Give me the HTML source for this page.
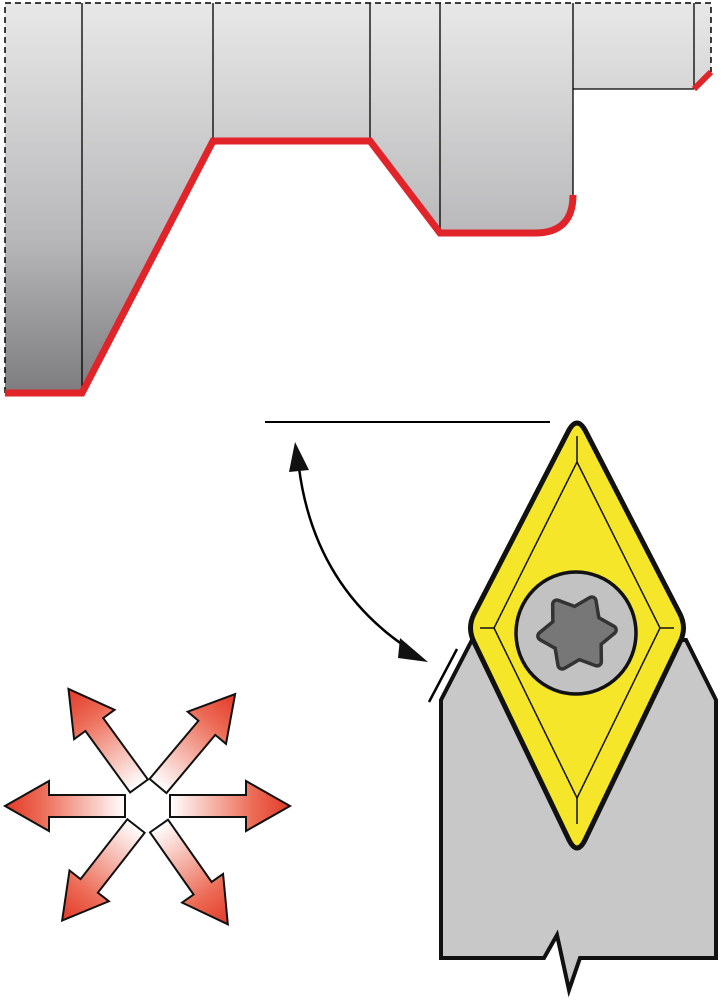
<!DOCTYPE html>
<html><head><meta charset="utf-8"><style>html,body{margin:0;padding:0;background:#fff}svg{display:block}</style></head>
<body>
<svg width="724" height="1000" viewBox="0 0 724 1000" xmlns="http://www.w3.org/2000/svg">
<defs>
<linearGradient id="g" x1="0" y1="0" x2="0" y2="1"><stop offset="0" stop-color="#e8e8e8"/><stop offset="0.6" stop-color="#b8b8ba"/><stop offset="1" stop-color="#7d7d7f"/></linearGradient>
<linearGradient id="ar" x1="0" y1="0" x2="1" y2="0"><stop offset="0" stop-color="#ffffff"/><stop offset="0.7" stop-color="#ec6a55"/><stop offset="1" stop-color="#e23a28"/></linearGradient>
</defs>
<path d="M5,3 H711 V72 L694,89 H573 V195 Q573,233 535,233 H440 L370,141 H213 L82,393 H5 Z" fill="url(#g)"/>
<path d="M5,393 V3 H711 V72" fill="none" stroke="#000" stroke-width="1.5" stroke-dasharray="6,4"/>
<g stroke="#000" stroke-width="1.3">
<line x1="82" y1="3" x2="82" y2="390"/>
<line x1="213" y1="3" x2="213" y2="140"/>
<line x1="370" y1="3" x2="370" y2="140"/>
<line x1="440" y1="3" x2="440" y2="232"/>
<line x1="573" y1="3" x2="573" y2="195"/>
<line x1="694" y1="3" x2="694" y2="88"/>
<line x1="573" y1="89" x2="694" y2="89"/>
</g>
<path d="M5,393 H82 L213,141 H370 L440,233 H535 Q573,233 573,195" fill="none" stroke="#e0242a" stroke-width="7"/>
<line x1="694" y1="89" x2="711" y2="72" stroke="#e0242a" stroke-width="6"/>
<line x1="265" y1="422" x2="550" y2="422" stroke="#000" stroke-width="2"/>
<path d="M299,468 Q315,590 415,653" fill="none" stroke="#000" stroke-width="2.5"/>
<polygon points="295,442 289,472 309,470" fill="#111"/>
<polygon points="428,662 400,638 398,658" fill="#111"/>
<line x1="429" y1="702" x2="457" y2="649" stroke="#000" stroke-width="2.5"/>
<path d="M441,958 V700 L472,640 H686 L716,700 V958 H580 L569,990 L557,935 L544,958 Z" fill="#c8c8c8" stroke="#111" stroke-width="4"/>
<path d="M569,430 Q577,416 585,430 L680,614 Q687,628 680,642 L585,840 Q577,856 569,840 L474,642 Q467,628 474,614 Z" fill="#f5e62a" stroke="#111" stroke-width="5"/>
<path d="M577,462 L660,628 L577,798 L494,628 Z" fill="none" stroke="#111" stroke-width="1.5"/>
<g stroke="#111" stroke-width="1.5"><line x1="577" y1="436" x2="577" y2="462"/><line x1="577" y1="798" x2="577" y2="824"/><line x1="480" y1="628" x2="494" y2="628"/><line x1="660" y1="628" x2="674" y2="628"/></g>
<ellipse cx="576" cy="633" rx="60" ry="61" fill="#c2c2c2" stroke="#111" stroke-width="3.5"/>
<g transform="translate(577,633) rotate(-5)">
<polygon points="35,0 19,11 17.5,30.3 0,22 -17.5,30.3 -19,11 -35,0 -19,-11 -17.5,-30.3 0,-22 17.5,-30.3 19,-11" fill="#333" stroke="#333" stroke-width="12" stroke-linejoin="round"/>
<polygon points="35,0 19,11 17.5,30.3 0,22 -17.5,30.3 -19,11 -35,0 -19,-11 -17.5,-30.3 0,-22 17.5,-30.3 19,-11" fill="#777" stroke="#777" stroke-width="5" stroke-linejoin="round"/>
</g>
<g stroke="#111" stroke-width="2" fill="url(#ar)">
<path d="M0,-11 H76 V-25 L120,0 L76,25 V11 H0 Z" transform="translate(125,806) rotate(180)"/>
<path d="M0,-11 H76 V-25 L120,0 L76,25 V11 H0 Z" transform="translate(170,806)"/>
<path d="M0,-11 H76 V-25 L120,0 L76,25 V11 H0 Z" transform="translate(139,786) rotate(-126)"/>
<path d="M0,-11 H76 V-25 L120,0 L76,25 V11 H0 Z" transform="translate(158,786) rotate(-50)"/>
<path d="M0,-11 H76 V-25 L120,0 L76,25 V11 H0 Z" transform="translate(136,826) rotate(128)"/>
<path d="M0,-11 H76 V-25 L120,0 L76,25 V11 H0 Z" transform="translate(159,826) rotate(55)"/>
</g>
</svg>
</body></html>
